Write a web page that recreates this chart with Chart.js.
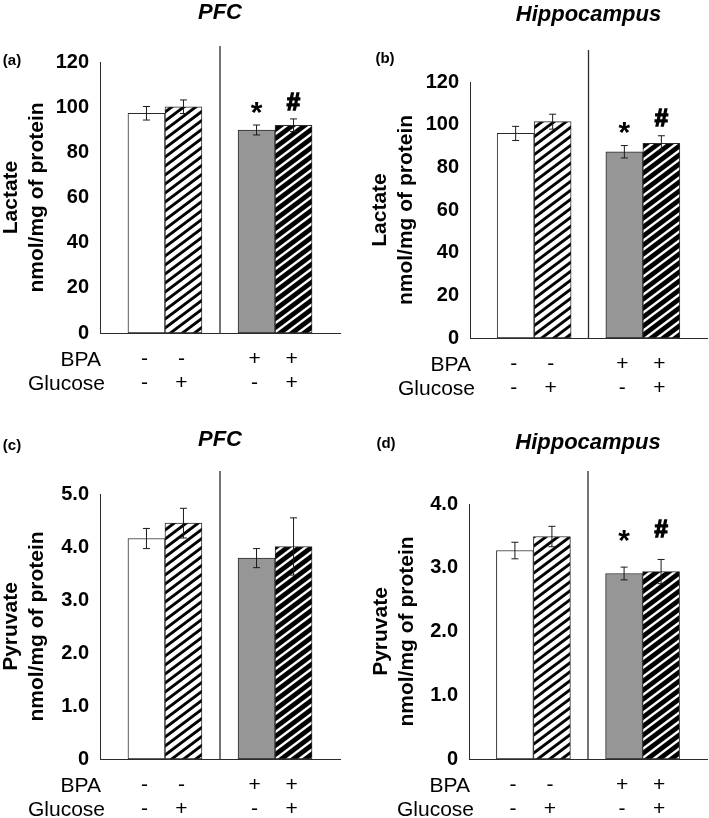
<!DOCTYPE html>
<html>
<head>
<meta charset="utf-8">
<script src="https://cdn.jsdelivr.net/npm/chart.js@4.4.1/dist/chart.umd.min.js"></script>
<style>
  html, body { margin: 0; padding: 0; background: #fff; }
  #fig { position: relative; width: 709px; height: 818px; }
  #fig canvas { position: absolute; }
</style>
</head>
<body>
<div id="fig">
  <canvas id="panelA" width="354" height="400" style="left:0;top:0"></canvas>
  <canvas id="panelB" width="355" height="400" style="left:354px;top:0"></canvas>
  <canvas id="panelC" width="354" height="418" style="left:0;top:400px"></canvas>
  <canvas id="panelD" width="355" height="418" style="left:354px;top:400px"></canvas>
</div>
<script>
// bar order: control, control+glucose, BPA, BPA+glucose
var groupNames = ["Control", "BPA"];
var bpaRow = ["-", "-", "+", "+"];
var glucoseRow = ["-", "+", "-", "+"];

var lactatePFC = [97.3, 100.2, 89.9, 92.0];
var lactatePFCerr = [3.0, 3.0, 2.2, 2.8];
var lactatePFCsig = ["", "", "*", "#"];

var lactateHip = [95.9, 101.4, 87.3, 91.3];
var lactateHipErr = [3.3, 3.5, 2.9, 3.5];
var lactateHipSig = ["", "", "*", "#"];

var pyruvatePFC = [4.16, 4.45, 3.79, 4.01];
var pyruvatePFCerr = [0.19, 0.28, 0.18, 0.54];
var pyruvatePFCsig = ["", "", "", ""];

var pyruvateHip = [3.27, 3.49, 2.91, 2.94];
var pyruvateHipErr = [0.13, 0.16, 0.10, 0.19];
var pyruvateHipSig = ["", "", "*", "#"];

var lactateTicks = { max: 120, step: 20 };
var FONT = "'Liberation Sans', Arial, sans-serif";

// diagonal hatch fills
function stripes(ink) {
    var w = 12, h = 9;
    var c = document.createElement("canvas");
    c.width = w; c.height = h;
    var g = c.getContext("2d");
    var img = g.createImageData(w, h);
    for (var py = 0; py < h; py++) {
        for (var px = 0; px < w; px++) {
            var cover = 0;
            for (var sy = 0; sy < 4; sy++) {
                for (var sx = 0; sx < 4; sx++) {
                    var t = (px + (sx + 0.5) / 4) + (py + (sy + 0.5) / 4) * w / h;
                    if ((t % w) < ink) cover++;
                }
            }
            var val = Math.round(255 * (1 - cover / 16));
            var o = (py * w + px) * 4;
            img.data[o] = img.data[o + 1] = img.data[o + 2] = val;
            img.data[o + 3] = 255;
        }
    }
    g.putImageData(img, 0, 0);
    return g.createPattern(c, "repeat");
}
var hatchLight = stripes(4.8);
var hatchDark = stripes(8);

function toDatasets(values) {
    return [0, 1].map(function (glc) {
        return {
            label: glc ? "Glucose +" : "Glucose -",
            data: groupNames.map(function (name, g) { return { x: g, y: values[g * 2 + glc] }; }),
            backgroundColor: glc ? [hatchLight, hatchDark] : ["#ffffff", "#969696"],
            borderColor: "#2b2b2b",
            borderWidth: 1,
            borderSkipped: false,
            barThickness: 37
        };
    });
}

var panelExtras = {
    id: "panelExtras",
    afterDatasetsDraw: function (chart, args, opts) {
        var ctx = chart.ctx, area = chart.chartArea;
        var xs = chart.scales.x, ys = chart.scales.y;
        ctx.save();

        // divider between the two groups
        var mid = (xs.getPixelForValue(0) + xs.getPixelForValue(1)) / 2;
        ctx.strokeStyle = "#2b2b2b";
        ctx.lineWidth = 1.3;
        ctx.beginPath();
        ctx.moveTo(mid, area.top - opts.dividerRise);
        ctx.lineTo(mid, area.bottom);
        ctx.stroke();

        var centers = [];
        chart.data.datasets.forEach(function (ds, d) {
            chart.getDatasetMeta(d).data.forEach(function (bar, g) {
                var k = g * 2 + d;
                var v = ds.data[g].y, e = opts.errors[k];
                var top = ys.getPixelForValue(v + e), bot = ys.getPixelForValue(v - e);
                centers[k] = bar.x;
                ctx.strokeStyle = "#1a1a1a";
                ctx.lineWidth = 1;
                ctx.beginPath();
                ctx.moveTo(bar.x, top); ctx.lineTo(bar.x, bot);
                ctx.moveTo(bar.x - 3.5, top); ctx.lineTo(bar.x + 3.5, top);
                ctx.moveTo(bar.x - 3.5, bot); ctx.lineTo(bar.x + 3.5, bot);
                ctx.stroke();

                var mark = opts.marks[k];
                if (mark) {
                    ctx.fillStyle = "#000";
                    ctx.strokeStyle = "#000";
                    ctx.font = "bold " + (mark === "*" ? 30 : 24) + "px " + FONT;
                    ctx.textAlign = "center";
                    ctx.textBaseline = "alphabetic";
                    var m = ctx.measureText(mark);
                    var cy = top - opts.markLift;
                    var by = cy + (m.actualBoundingBoxAscent - m.actualBoundingBoxDescent) / 2;
                    ctx.fillText(mark, bar.x, by);
                    if (mark === "#") {
                        ctx.lineWidth = 1.4;
                        ctx.strokeText(mark, bar.x, by);
                    }
                }
            });
        });

        // treatment rows under the axis
        ctx.fillStyle = "#000";
        ctx.font = "21px " + FONT;
        ctx.textBaseline = "middle";
        ctx.textAlign = "right";
        ctx.fillText("BPA", area.left + 1, area.bottom + 27);
        ctx.fillText("Glucose", area.left + 5, area.bottom + 51);
        ctx.textAlign = "center";
        for (var i = 0; i < 4; i++) {
            ctx.fillText(bpaRow[i], centers[i] - 2, area.bottom + 26);
            ctx.fillText(glucoseRow[i], centers[i] - 2, area.bottom + 50);
        }

        // panel letter
        ctx.font = "bold 15px " + FONT;
        ctx.fillText(opts.letter, opts.letterX, opts.letterY);
        ctx.restore();
    }
};

function makePanel(id, cfg) {
    var ctx = document.getElementById(id).getContext("2d");
    return new Chart(ctx, {
        type: "bar",
        data: { datasets: toDatasets(cfg.values) },
        plugins: [panelExtras],
        options: {
            responsive: false,
            animation: false,
            layout: { padding: { left: 0, top: 0, right: cfg.padRight, bottom: cfg.padBottom } },
            plugins: {
                legend: { display: false },
                tooltip: { enabled: false },
                title: {
                    display: true,
                    text: cfg.title,
                    fullSize: false,
                    color: "#000",
                    font: { family: FONT, size: 22, weight: "bold", style: "italic", lineHeight: 1.2 },
                    padding: { top: cfg.titleTop, bottom: cfg.titleBottom }
                },
                panelExtras: {
                    errors: cfg.errors,
                    marks: cfg.marks,
                    markLift: cfg.markLift,
                    dividerRise: cfg.dividerRise,
                    letter: cfg.letter,
                    letterX: cfg.letterX,
                    letterY: cfg.letterY
                }
            },
            scales: {
                x: {
                    type: "linear",
                    min: -0.59,
                    max: 1.59,
                    offset: false,
                    grid: { display: false, offset: false },
                    ticks: { display: false },
                    border: { display: true, color: "#2b2b2b", width: 1 },
                    afterFit: function (s) { s.height = 0; }
                },
                y: {
                    min: 0,
                    max: cfg.yMax,
                    grid: { display: false, drawTicks: false },
                    border: { display: true, color: "#2b2b2b", width: 1 },
                    ticks: {
                        stepSize: cfg.yStep,
                        padding: 11,
                        color: "#000",
                        font: { family: FONT, size: 20, weight: "bold" },
                        callback: function (v) { return v === 0 ? "0" : (cfg.yStep < 1.5 ? v.toFixed(1) : String(v)); }
                    },
                    title: {
                        display: true,
                        text: cfg.yTitle,
                        color: "#000",
                        font: { family: FONT, size: 21, weight: "bold", lineHeight: 1.2 },
                        padding: { top: cfg.yTitlePad, bottom: 0 }
                    },
                    afterFit: function (s) { s.width = cfg.yWidth; }
                }
            }
        }
    });
}

makePanel("panelA", {
    title: "PFC", letter: "(a)", letterX: 12, letterY: 61,
    values: lactatePFC, errors: lactatePFCerr, marks: lactatePFCsig, markLift: 17,
    yMax: lactateTicks.max, yStep: lactateTicks.step, yTitle: ["Lactate", "nmol/mg of protein"],
    yWidth: 100, yTitlePad: -1, padRight: 14, padBottom: 67,
    titleTop: 0, titleBottom: 35.6, dividerRise: 16
});
makePanel("panelB", {
    title: "Hippocampus", letter: "(b)", letterX: 31, letterY: 59,
    values: lactateHip, errors: lactateHipErr, marks: lactateHipSig, markLift: 18,
    yMax: lactateTicks.max, yStep: lactateTicks.step, yTitle: ["Lactate", "nmol/mg of protein"],
    yWidth: 116, yTitlePad: 14, padRight: 2, padBottom: 62,
    titleTop: 2, titleBottom: 53.6, dividerRise: 32
});
makePanel("panelC", {
    title: "PFC", letter: "(c)", letterX: 12, letterY: 46,
    values: pyruvatePFC, errors: pyruvatePFCerr, marks: pyruvatePFCsig, markLift: 17,
    yMax: 5, yStep: 1, yTitle: ["Pyruvate", "nmol/mg of protein"],
    yWidth: 100, yTitlePad: -1, padRight: 14, padBottom: 59,
    titleTop: 27, titleBottom: 40.6, dividerRise: 23
});
makePanel("panelD", {
    title: "Hippocampus", letter: "(d)", letterX: 32, letterY: 44,
    values: pyruvateHip, errors: pyruvateHipErr, marks: pyruvateHipSig, markLift: 31,
    yMax: 4, yStep: 1, yTitle: ["Pyruvate", "nmol/mg of protein"],
    yWidth: 115, yTitlePad: 15, padRight: 2, padBottom: 59,
    titleTop: 30, titleBottom: 47.6, dividerRise: 33
});
</script>
</body>
</html>
